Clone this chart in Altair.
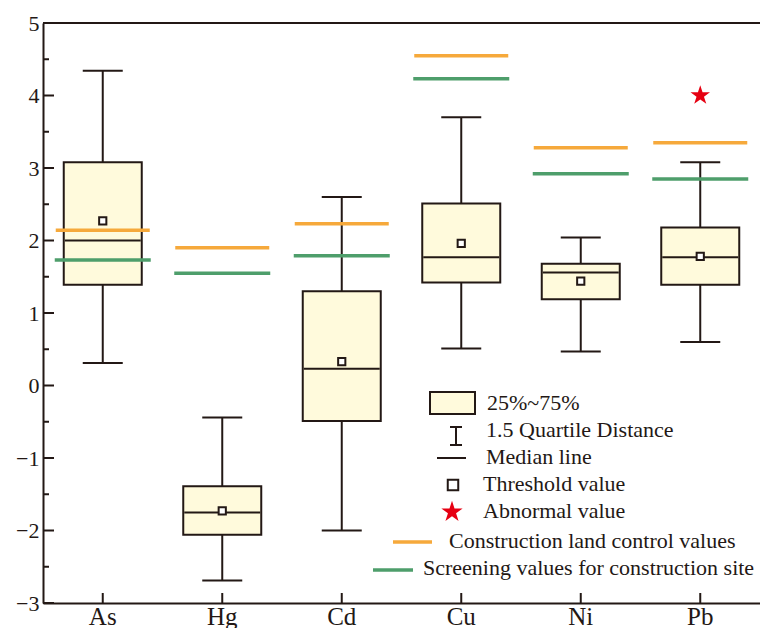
import altair as alt
import pandas as pd

# Box-plot statistics per element (log-scaled concentrations)
elements = ["As", "Hg", "Cd", "Cu", "Ni", "Pb"]
whisker_low = [0.31, -2.69, -2.00, 0.51, 0.47, 0.60]
quartile_1 = [1.39, -2.06, -0.49, 1.42, 1.19, 1.39]
median_val = [2.00, -1.75, 0.23, 1.77, 1.56, 1.77]
quartile_3 = [3.08, -1.39, 1.30, 2.51, 1.68, 2.18]
whisker_high = [4.34, -0.44, 2.60, 3.70, 2.04, 3.08]
threshold_val = [2.27, -1.73, 0.33, 1.96, 1.44, 1.78]

# Reference levels
control_val = [2.14, 1.90, 2.23, 4.55, 3.28, 3.35]
screening_val = [1.73, 1.55, 1.79, 4.23, 2.92, 2.85]

# Outliers
abnormal_element = ["Pb"]
abnormal_val = [4.00]

# Axis ticks
y_labels = [-3, -2, -1, 0, 1, 2, 3, 4, 5]
y_minor = [-2.5, -1.5, -0.5, 0.5, 1.5, 2.5, 3.5, 4.5]

W, H = 717, 580
INK = "#231815"
BOX = "#FFFADC"
ORANGE = "#F6A93B"
GREEN = "#4E9E6B"
FONT = "Liberation Serif"
STAR = ("M0,-1L0.2245,-0.309L0.9511,-0.309L0.3633,0.118L0.5878,0.809"
        "L0,0.382L-0.5878,0.809L-0.3633,0.118L-0.9511,-0.309L-0.2245,-0.309Z")

stats = pd.DataFrame({
    "element": elements,
    "low": whisker_low,
    "q1": quartile_1,
    "median": median_val,
    "q3": quartile_3,
    "high": whisker_high,
    "threshold": threshold_val,
    "control": control_val,
    "screening": screening_val,
})
outliers = pd.DataFrame({"element": abnormal_element, "value": abnormal_val})

xscale = alt.Scale(domain=elements, paddingInner=0, paddingOuter=0)
yscale = alt.Scale(domain=[-3, 5], nice=False, zero=False)

xaxis = alt.Axis(labelAngle=0, ticks=False, tickSize=0, labelPadding=1,
                 labelFont=FONT, labelFontSize=25, labelColor=INK,
                 domainColor=INK, domainWidth=2, grid=False)
yaxis = alt.Axis(values=y_labels, ticks=False, tickSize=0, labelPadding=4,
                 labelFont=FONT, labelFontSize=22, labelColor=INK,
                 domainColor=INK, domainWidth=2, grid=False, format="d")


def X():
    return alt.X("element:N", scale=xscale, axis=xaxis, title=None, sort=elements)


def Y(field):
    return alt.Y(f"{field}:Q", scale=yscale, axis=yaxis, title=None)


base = alt.Chart(stats)

whiskers = base.mark_rule(color=INK, strokeWidth=2).encode(
    x=X(), y=Y("low"), y2="high")
boxes = base.mark_bar(size=78, fill=BOX, stroke=INK, strokeWidth=2, opacity=1).encode(
    x=X(), y=Y("q1"), y2="q3")
cap_low = base.mark_tick(size=40, thickness=2, color=INK, opacity=1).encode(
    x=X(), y=Y("low"))
cap_high = base.mark_tick(size=40, thickness=2, color=INK, opacity=1).encode(
    x=X(), y=Y("high"))
medians = base.mark_tick(size=76, thickness=2, color=INK, opacity=1).encode(
    x=X(), y=Y("median"))
thresholds = base.mark_point(shape="square", size=52, filled=True, fill="white",
                             stroke=INK, strokeWidth=2, opacity=1).encode(
    x=X(), y=Y("threshold"))
control = base.mark_tick(size=94, thickness=3.5, color=ORANGE, opacity=1).encode(
    x=X(), y=Y("control"))
screening = base.mark_tick(size=96, thickness=3.5, color=GREEN, opacity=1).encode(
    x=X(), y=Y("screening"))
stars = alt.Chart(outliers).mark_point(shape=STAR, size=420, filled=True,
                                       color="#E60012", opacity=1).encode(
    x=X(), y=Y("value"))

# inward axis ticks
major_ticks = alt.Chart(pd.DataFrame({"v": y_labels})).mark_rule(
    color=INK, strokeWidth=2).encode(
    y=Y("v"), x=alt.value(0), x2=alt.value(11))
minor_ticks = alt.Chart(pd.DataFrame({"v": y_minor})).mark_rule(
    color=INK, strokeWidth=2).encode(
    y=Y("v"), x=alt.value(0), x2=alt.value(6))
x_ticks = alt.Chart(pd.DataFrame({"element": elements})).mark_rule(
    color=INK, strokeWidth=2).encode(
    x=X(), y=alt.value(H - 10), y2=alt.value(H))
top_border = alt.Chart(alt.Data(values=[{"k": 0}])).mark_rule(
    color=INK, strokeWidth=2).encode(
    x=alt.value(0), x2=alt.value(W + 5), y=alt.value(0))

one = alt.Data(values=[{"k": 0}])

# legend block
legend = [
    alt.Chart(one).mark_rect(fill=BOX, stroke=INK, strokeWidth=2).encode(
        x=alt.value(387), x2=alt.value(432), y=alt.value(369), y2=alt.value(391)),
    alt.Chart(one).mark_rule(color=INK, strokeWidth=2).encode(
        x=alt.value(413), y=alt.value(404), y2=alt.value(422)),
    alt.Chart(one).mark_rule(color=INK, strokeWidth=2).encode(
        x=alt.value(407), x2=alt.value(419), y=alt.value(404)),
    alt.Chart(one).mark_rule(color=INK, strokeWidth=2).encode(
        x=alt.value(407), x2=alt.value(419), y=alt.value(422)),
    alt.Chart(one).mark_rule(color=INK, strokeWidth=2).encode(
        x=alt.value(394), x2=alt.value(423), y=alt.value(435)),
    alt.Chart(one).mark_point(shape="square", size=110, filled=True, fill="white",
                              stroke=INK, strokeWidth=2, opacity=1).encode(
        x=alt.value(410), y=alt.value(462)),
    alt.Chart(one).mark_point(shape=STAR, size=500, filled=True,
                              color="#E60012", opacity=1).encode(
        x=alt.value(409), y=alt.value(489)),
    alt.Chart(one).mark_rule(color=ORANGE, strokeWidth=3.5).encode(
        x=alt.value(350), x2=alt.value(389), y=alt.value(519)),
    alt.Chart(one).mark_rule(color=GREEN, strokeWidth=3.5).encode(
        x=alt.value(330), x2=alt.value(370), y=alt.value(547)),
]
legend_text = [
    ("25%~75%", 444, 387),
    ("1.5 Quartile Distance", 443, 414),
    ("Median line", 443, 441),
    ("Threshold value", 440, 468),
    ("Abnormal value", 440, 495),
    ("Construction land control values", 406, 525),
    ("Screening values for construction site", 380, 552),
]
for label, px, py in legend_text:
    legend.append(
        alt.Chart(one).mark_text(text=label, align="left", baseline="alphabetic",
                                 font=FONT, fontSize=22, color=INK).encode(
            x=alt.value(px), y=alt.value(py)))

chart = alt.layer(
    whiskers, boxes, cap_low, cap_high, medians, thresholds,
    control, screening, stars, major_ticks, minor_ticks, x_ticks, top_border,
    *legend,
).properties(
    width=W, height=H,
    autosize=alt.AutoSizeParams(type="none"),
    padding={"left": 43, "top": 23, "right": 0, "bottom": 25},
    background="white",
).configure_view(stroke="transparent")

chart.save("out.html", embed_options={"renderer": "svg", "actions": False})
